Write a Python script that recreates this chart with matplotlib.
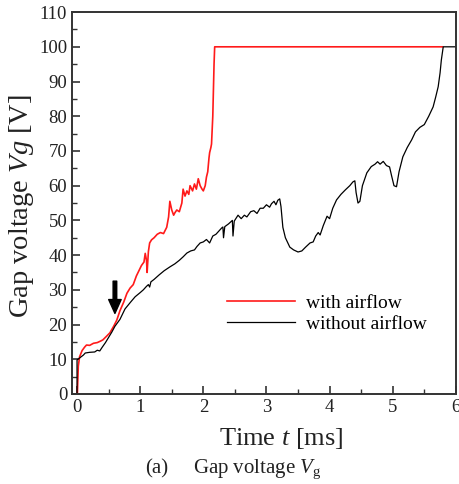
import matplotlib
matplotlib.use("Agg")
import matplotlib.pyplot as plt
from matplotlib.ticker import MultipleLocator

plt.rcParams['font.family'] = ['Liberation Serif', 'DejaVu Serif']
plt.rcParams['mathtext.fontset'] = 'custom'
plt.rcParams['mathtext.rm'] = 'Liberation Serif'
plt.rcParams['mathtext.it'] = 'Liberation Serif:italic'

# with airflow (red)
red_t = [0.005, 0.02, 0.04, 0.08, 0.12, 0.15, 0.20, 0.26, 0.32, 0.38, 0.41, 0.46,
         0.52, 0.58, 0.63, 0.68, 0.74, 0.79, 0.84, 0.89, 0.94, 0.98, 1.02, 1.06,
         1.08, 1.10, 1.11, 1.13, 1.15, 1.18, 1.22, 1.27, 1.32, 1.37, 1.42, 1.45,
         1.47, 1.50, 1.53, 1.55, 1.58, 1.62, 1.66, 1.68, 1.71, 1.74, 1.77, 1.79,
         1.83, 1.86, 1.89, 1.92, 1.95, 1.98, 2.00, 2.03, 2.05, 2.07, 2.09, 2.10,
         2.12, 2.13, 2.15, 2.17, 2.18, 5.79]
red_v = [0.0, 8.0, 10.7, 12.5, 13.5, 14.1, 14.0, 14.6, 14.8, 15.3, 15.6, 16.5,
         17.6, 19.5, 21.3, 24.0, 26.5, 29.0, 30.5, 31.5, 34.0, 35.5, 37.0, 38.0,
         40.5, 38.5, 35.0, 41.0, 43.5, 44.4, 45.0, 46.0, 46.5, 46.2, 48.0, 51.0,
         55.5, 53.0, 51.5, 52.2, 53.0, 52.5, 55.0, 59.0, 57.0, 58.5, 57.5, 60.0,
         58.5, 60.5, 59.0, 62.0, 60.0, 59.0, 58.5, 60.0, 62.5, 64.0, 68.0, 69.5,
         71.0, 72.0, 80.0, 95.0, 100.0, 100.0]

# without airflow (black)
blk_t = [0.0, 0.0, 0.05, 0.10, 0.13, 0.20, 0.28, 0.32, 0.36, 0.40, 0.45, 0.49,
         0.55, 0.60, 0.68, 0.76, 0.85, 0.92, 1.00, 1.05, 1.10, 1.13, 1.15, 1.17,
         1.22, 1.30, 1.38, 1.47, 1.55, 1.62, 1.68, 1.74, 1.80, 1.86, 1.90, 1.95,
         2.00, 2.05, 2.10, 2.15, 2.20, 2.25, 2.29, 2.31, 2.32, 2.34, 2.40, 2.46,
         2.47, 2.49, 2.55, 2.60, 2.65, 2.69, 2.75, 2.80, 2.85, 2.90, 2.95, 3.00,
         3.05, 3.08, 3.12, 3.15, 3.18, 3.21, 3.23, 3.26, 3.30, 3.37, 3.43, 3.50,
         3.56, 3.62, 3.69, 3.74, 3.78, 3.82, 3.85, 3.90, 3.96, 4.00, 4.05, 4.11,
         4.18, 4.25, 4.32, 4.37, 4.40, 4.42, 4.45, 4.48, 4.52, 4.59, 4.66, 4.72,
         4.76, 4.80, 4.85, 4.90, 4.95, 4.98, 5.02, 5.06, 5.10, 5.16, 5.23, 5.30,
         5.36, 5.43, 5.50, 5.57, 5.64, 5.68, 5.72, 5.75, 5.77, 5.80, 6.00]
blk_v = [0.0, 9.8, 10.5, 11.2, 11.8, 12.0, 12.1, 12.6, 12.4, 13.5, 14.8, 16.0,
         17.8, 19.5, 21.5, 24.5, 26.5, 28.0, 29.2, 30.0, 31.0, 31.5, 30.8, 32.3,
         33.0, 34.3, 35.5, 36.6, 37.5, 38.5, 39.5, 40.6, 41.2, 41.5, 42.5, 43.5,
         43.8, 44.5, 43.5, 45.5, 46.0, 47.0, 47.8, 48.1, 45.0, 48.2, 49.0, 50.0,
         45.5, 49.8, 51.5, 50.5, 51.5, 51.0, 52.5, 52.8, 52.0, 53.5, 53.5, 54.5,
         53.8, 54.8, 55.5, 54.5, 55.8, 56.2, 54.0, 48.0, 45.0, 42.3, 41.5, 40.9,
         41.2, 42.3, 43.5, 43.8, 45.5, 46.5, 45.8, 48.5, 51.2, 50.5, 53.5, 55.9,
         57.5, 58.8, 60.0, 61.1, 61.4, 58.0, 55.0, 55.5, 60.0, 63.7, 65.5, 66.2,
         66.9, 66.2, 67.0, 65.8, 65.4, 63.0, 60.0, 59.7, 64.0, 68.3, 71.0, 73.2,
         75.5, 76.8, 77.6, 80.0, 82.7, 85.5, 88.5, 92.5, 96.2, 100.0, 100.0]

labels = ["with airflow", "without airflow"]

fig = plt.figure(figsize=(4.6, 4.84), dpi=100)
ax = fig.add_axes([0.1565, 0.186, 0.8345, 0.789])

ax.plot(red_t, red_v, color='#ff1a1a', lw=1.2, label=labels[0])
ax.plot(blk_t, blk_v, color='black', lw=0.9, label=labels[1])

# arrow marking the onset
ax.annotate('', xy=(0.6, 23.2), xytext=(0.6, 32.5),
            arrowprops=dict(facecolor='black', edgecolor='black',
                            width=2.6, headwidth=9, headlength=10, shrink=0))

ax.set_xlim(-0.08, 6.0)
ax.set_ylim(0, 110)
ax.xaxis.set_major_locator(MultipleLocator(1))
ax.xaxis.set_minor_locator(MultipleLocator(0.5))
ax.yaxis.set_major_locator(MultipleLocator(10))
ax.yaxis.set_minor_locator(MultipleLocator(5))
ax.tick_params(which='both', direction='in', top=False, right=False,
               colors='#333333', labelcolor='#222222', labelsize=13.5)
ax.tick_params(which='major', length=6, width=1.2)
ax.tick_params(which='minor', length=3.5, width=1.0)
for s in ax.spines.values():
    s.set_linewidth(1.4)
    s.set_color('#333333')

# axis titles placed by hand to follow the original
fig.text(22 / 460, 1 - 206 / 484, 'Gap voltage $Vg$ [V]', rotation=90,
         ha='center', va='center', fontsize=20.5, color='#222222')
fig.text(281 / 460, 1 - 445 / 484, 'Time $t$ [ms]', ha='center', va='baseline',
         fontsize=19, color='#222222')

ax.legend(loc='upper left', bbox_to_anchor=(0.404, 0.262), frameon=False,
          fontsize=14, handlelength=3.5, handletextpad=0.55, labelspacing=0.18,
          borderpad=0, borderaxespad=0)

fig.text(145 / 460, 1 - 473 / 484, '(a)', ha='left', va='baseline',
         fontsize=15, color='#222222')
fig.text(193 / 460, 1 - 473 / 484, 'Gap voltage $V_\\mathrm{g}$', ha='left',
         va='baseline', fontsize=15, color='#222222')

fig.savefig('out.png', dpi=100)
